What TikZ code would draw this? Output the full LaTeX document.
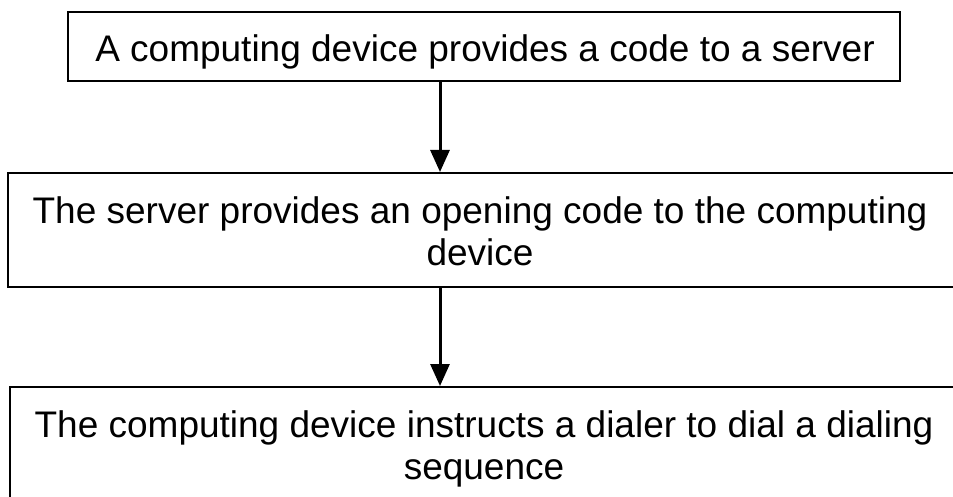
\documentclass[tikz,border=0pt]{standalone}
\usepackage{fontspec}
\setmainfont{Liberation Sans}
\usetikzlibrary{arrows.meta}
\begin{document}
\begin{tikzpicture}[x=1pt,y=-1pt,
  box/.style={draw=black,line width=2pt,inner sep=0pt},
  txt/.style={font=\fontsize{37}{42}\selectfont,align=center,inner sep=0pt,anchor=north},
  arr/.style={line width=3pt,-{Triangle[length=22pt,width=19pt]}}]
\useasboundingbox (0,0) rectangle (953,497);
\fill[white] (0,0) rectangle (953,497);
% boxes
\node[box,minimum width=832pt,minimum height=69pt] (b1) at (484,46.5) {};
\node[box,minimum width=946pt,minimum height=114pt] (b2) at (481,230) {};
\node[box,minimum width=944pt,minimum height=112pt] (b3) at (482,443) {};
% texts
\node[txt] (t1) at (485,34) {A computing device provides a code to a server};
\node[txt] (t2) at (480,196) {The server provides an opening code to the computing\\device};
\node[txt] (t3) at (484,410) {The computing device instructs a dialer to dial a dialing\\sequence};
% arrows
\coordinate (ax) at (440,0);
\draw[arr] (b1.south -| ax) -- (b2.north -| ax);
\draw[arr] (b2.south -| ax) -- (b3.north -| ax);
\end{tikzpicture}
\end{document}
